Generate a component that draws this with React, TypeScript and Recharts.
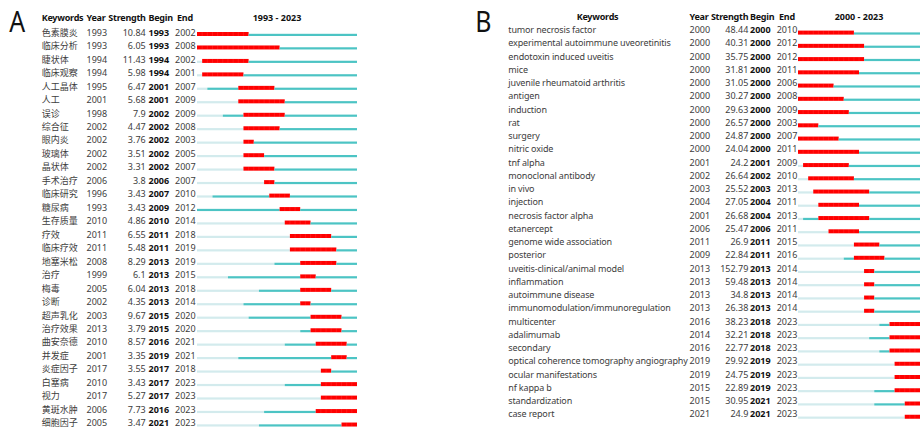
import React from 'react';
import { BarChart, Bar, XAxis, YAxis } from 'recharts';

// Panel A - Chinese keywords, 1993 - 2023
const KEYWORDS_A = [
  '色素膜炎', '临床分析', '睫状体', '临床观察', '人工晶体', '人工', '误诊', '综合征', '眼内炎', '玻璃体',
  '晶状体', '手术治疗', '临床研究', '糖尿病', '生存质量', '疗效', '临床疗效', '地塞米松', '治疗', '梅毒',
  '诊断', '超声乳化', '治疗效果', '曲安奈德', '并发症', '炎症因子', '白塞病', '视力', '黄斑水肿', '细胞因子',
];
const YEAR_A = [
  1993, 1993, 1994, 1994, 1995, 2001, 1998, 2002, 2002, 2002,
  2002, 2006, 1996, 1993, 2010, 2011, 2011, 2008, 1999, 2005,
  2002, 2003, 2013, 2010, 2001, 2017, 2010, 2017, 2006, 2005,
];
const STRENGTH_A = [
  '10.84', '6.05', '11.43', '5.98', '6.47', '5.68', '7.9', '4.47', '3.76', '3.51',
  '3.31', '3.8', '3.43', '3.43', '4.86', '6.55', '5.48', '8.29', '6.1', '6.04',
  '4.35', '9.67', '3.79', '8.57', '3.35', '3.55', '3.43', '5.27', '7.73', '3.47',
];
const BEGIN_A = [
  1993, 1993, 1994, 1994, 2001, 2001, 2002, 2002, 2002, 2002,
  2002, 2006, 2007, 2009, 2010, 2011, 2011, 2013, 2013, 2013,
  2013, 2015, 2015, 2016, 2019, 2017, 2017, 2017, 2016, 2021,
];
const END_A = [
  2002, 2008, 2002, 2001, 2007, 2009, 2009, 2008, 2003, 2005,
  2007, 2007, 2010, 2012, 2014, 2018, 2019, 2019, 2015, 2018,
  2014, 2020, 2020, 2021, 2021, 2018, 2023, 2023, 2023, 2023,
];

// Panel B - English keywords, 2000 - 2023
const KEYWORDS_B = [
  'tumor necrosis factor', 'experimental autoimmune uveoretinitis', 'endotoxin induced uveitis', 'mice',
  'juvenile rheumatoid arthritis', 'antigen', 'induction', 'rat', 'surgery', 'nitric oxide', 'tnf alpha',
  'monoclonal antibody', 'in vivo', 'injection', 'necrosis factor alpha', 'etanercept', 'genome wide association',
  'posterior', 'uveitis-clinical/animal model', 'inflammation', 'autoimmune disease',
  'immunomodulation/immunoregulation', 'multicenter', 'adalimumab', 'secondary',
  'optical coherence tomography angiography', 'ocular manifestations', 'nf kappa b', 'standardization', 'case report',
];
const YEAR_B = [
  2000, 2000, 2000, 2000, 2000, 2000, 2000, 2000, 2000, 2000,
  2001, 2002, 2003, 2004, 2001, 2006, 2011, 2009, 2013, 2013,
  2013, 2013, 2016, 2014, 2016, 2019, 2019, 2015, 2015, 2021,
];
const STRENGTH_B = [
  '48.44', '40.31', '35.75', '31.81', '31.05', '30.27', '29.63', '26.57', '24.87', '24.04',
  '24.2', '26.64', '25.52', '27.05', '26.68', '25.47', '26.9', '22.84', '152.79', '59.48',
  '34.8', '26.38', '38.23', '32.21', '22.77', '29.92', '24.75', '22.89', '30.95', '24.9',
];
const BEGIN_B = [
  2000, 2000, 2000, 2000, 2000, 2000, 2000, 2000, 2000, 2000,
  2001, 2002, 2003, 2004, 2004, 2006, 2011, 2011, 2013, 2013,
  2013, 2013, 2018, 2018, 2018, 2019, 2019, 2019, 2021, 2021,
];
const END_B = [
  2010, 2012, 2012, 2011, 2006, 2008, 2009, 2003, 2007, 2011,
  2009, 2010, 2013, 2011, 2013, 2011, 2015, 2016, 2014, 2014,
  2014, 2014, 2023, 2023, 2023, 2023, 2023, 2023, 2023, 2023,
];

const LIGHT = '#d3ebed';
const TEAL = '#4cc4c4';
const RED = '#ff0000';
const FONT = "'Noto Sans', 'Noto Sans CJK SC', sans-serif";
const TXT = '#3d3d3d';

const buildRows = (kw: string[], yr: number[], bg: number[], en: number[], first: number, last: number) =>
  kw.map((k, i) => ({
    kw: k,
    pre: yr[i] - first,
    teal1: bg[i] - yr[i],
    red: en[i] - bg[i] + 1,
    teal2: last - en[i],
  }));

const rowsA = buildRows(KEYWORDS_A, YEAR_A, BEGIN_A, END_A, 1993, 2023);
const rowsB = buildRows(KEYWORDS_B, YEAR_B, BEGIN_B, END_B, 2000, 2023);

const ThinBar = (props: any) => {
  const { x, y, width, height, fill } = props;
  if (!width || width <= 0) return null;
  return <rect x={x} y={y + height - 2.2} width={width} height={2.2} fill={fill} />;
};

// red burst, one faint tick per year
const RedBar = (props: any) => {
  const { x, y, width, height, payload } = props;
  if (!width || width <= 0) return null;
  const n = payload.red;
  const step = width / n;
  const seps = [];
  for (let k = 1; k < n; k++) {
    seps.push(
      <line key={k} x1={x + k * step} x2={x + k * step} y1={y} y2={y + height} stroke="rgba(255,255,255,0.18)" strokeWidth={0.5} />
    );
  }
  return (
    <g>
      <rect x={x} y={y} width={width} height={height} fill={RED} />
      {seps}
    </g>
  );
};

interface Cols {
  keywords: string[];
  year: number[];
  strength: string[];
  begin: number[];
  end: number[];
  kwX: number;
  kwHeadX: number;
  kwHeadAnchor: 'start' | 'middle';
  yearX: number;
  strengthX: number;
  beginX: number;
  endX: number;
  endHeadX: number;
  titleX: number;
  title: string;
  headDy: number;
  textDy: number;
  letter: string;
  letterX: number;
  letterY: number;
  kwSpacing: number;
}

const makeTick = (c: Cols) => (props: any) => {
  const { y, payload } = props;
  const i = c.keywords.indexOf(payload.value);
  const ty = y + c.textDy;
  const hy = y + c.headDy;
  return (
    <g fontFamily={FONT} fontSize={9}>
      {i === 0 && (
        <g fontWeight="bold" fill="#111" letterSpacing={-0.25}>
          <text x={c.kwHeadX} y={hy} textAnchor={c.kwHeadAnchor} dominantBaseline="central">Keywords</text>
          <text x={c.yearX} y={hy} dominantBaseline="central">Year</text>
          <text x={c.strengthX} y={hy} textAnchor="end" dominantBaseline="central">Strength</text>
          <text x={c.beginX} y={hy} dominantBaseline="central">Begin</text>
          <text x={c.endHeadX} y={hy} dominantBaseline="central">End</text>
          <text x={c.titleX} y={hy} textAnchor="middle" dominantBaseline="central" letterSpacing={0}>{c.title}</text>
          <text
            transform={`translate(${c.letterX},${c.letterY}) scale(0.86,1)`}
            textAnchor="middle"
            fontSize={29}
            fontWeight="normal"
            letterSpacing={0}
            fill="#111"
          >
            {c.letter}
          </text>
        </g>
      )}
      <text x={c.kwX} y={ty} fill={TXT} dominantBaseline="central" letterSpacing={c.kwSpacing}>{payload.value}</text>
      <text x={c.yearX} y={ty} fill={TXT} dominantBaseline="central">{c.year[i]}</text>
      <text x={c.strengthX} y={ty} fill={TXT} textAnchor="end" dominantBaseline="central">{c.strength[i]}</text>
      <text x={c.beginX} y={ty} fill="#111" fontWeight="bold" dominantBaseline="central">{c.begin[i]}</text>
      <text x={c.endX} y={ty} fill={TXT} dominantBaseline="central">{c.end[i]}</text>
    </g>
  );
};

const colsA: Cols = {
  keywords: KEYWORDS_A, year: YEAR_A, strength: STRENGTH_A, begin: BEGIN_A, end: END_A,
  kwX: 41.7, kwHeadX: 41.7, kwHeadAnchor: 'start', yearX: 86.5, strengthX: 145.7, beginX: 148.5,
  endX: 175, endHeadX: 177, titleX: 277, title: '1993 - 2023', headDy: -16.4, textDy: -1.5,
  letter: 'A', letterX: 17.2, letterY: 32.3, kwSpacing: 0,
};

const colsB: Cols = {
  keywords: KEYWORDS_B, year: YEAR_B, strength: STRENGTH_B, begin: BEGIN_B, end: END_B,
  kwX: 68.3, kwHeadX: 157.5, kwHeadAnchor: 'middle', yearX: 249.5, strengthX: 308.3, beginX: 310,
  endX: 336.7, endHeadX: 339, titleX: 419, title: '2000 - 2023', headDy: -16.2, textDy: -2.6,
  letter: 'B', letterX: 43.3, letterY: 31.7, kwSpacing: -0.15,
};

const Burst = ({ rows, cols, width, height, top, axisW, span }: any) => (
  <BarChart
    width={width}
    height={height}
    data={rows}
    layout="vertical"
    barSize={4}
    margin={{ top, right: 0, bottom: 0, left: 0 }}
  >
    <XAxis type="number" domain={[0, span]} hide allowDataOverflow />
    <YAxis
      type="category"
      dataKey="kw"
      width={axisW}
      axisLine={false}
      tickLine={false}
      interval={0}
      tick={makeTick(cols)}
    />
    <Bar dataKey="pre" stackId="s" fill={LIGHT} shape={<ThinBar />} isAnimationActive={false} />
    <Bar dataKey="teal1" stackId="s" fill={TEAL} shape={<ThinBar />} isAnimationActive={false} />
    <Bar dataKey="red" stackId="s" fill={RED} shape={<RedBar />} isAnimationActive={false} />
    <Bar dataKey="teal2" stackId="s" fill={TEAL} shape={<ThinBar />} isAnimationActive={false} />
  </BarChart>
);

export default function App() {
  return (
    <div style={{ position: 'absolute', left: 0, top: 0, width: 920, height: 428, overflow: 'hidden', background: '#fff' }}>
      <div style={{ position: 'absolute', left: 0, top: 0 }}>
        <Burst rows={rowsA} cols={colsA} width={357} height={431} top={27} axisW={197} span={31} />
      </div>
      <div style={{ position: 'absolute', left: 440, top: 0 }}>
        <Burst rows={rowsB} cols={colsB} width={480} height={423} top={25.6} axisW={358} span={24} />
      </div>
    </div>
  );
}
